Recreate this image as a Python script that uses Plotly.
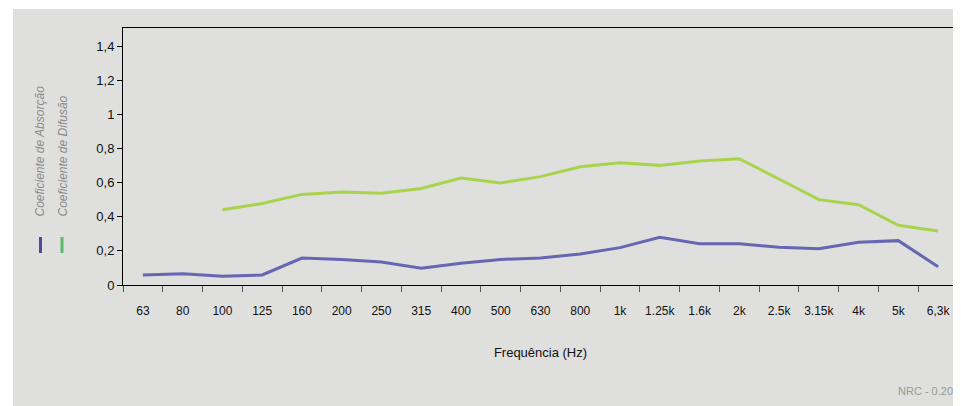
import plotly.graph_objects as go

categories = ["63", "80", "100", "125", "160", "200", "250", "315", "400", "500",
              "630", "800", "1k", "1.25k", "1.6k", "2k", "2.5k", "3.15k", "4k", "5k", "6,3k"]
absorcao = [0.059, 0.066, 0.051, 0.059, 0.158, 0.150, 0.135, 0.098, 0.127, 0.150,
            0.158, 0.182, 0.219, 0.279, 0.242, 0.242, 0.221, 0.213, 0.250, 0.260, 0.107]
difusao = [None, None, 0.441, 0.478, 0.531, 0.545, 0.537, 0.566, 0.627, 0.598,
           0.635, 0.693, 0.717, 0.701, 0.726, 0.740, 0.621, 0.500, 0.470, 0.350, 0.316]
y_ticks = [0, 0.2, 0.4, 0.6, 0.8, 1.0, 1.2, 1.4]
y_ticklabels = ["0", "0,2", "0,4", "0,6", "0,8", "1", "1,2", "1,4"]

OFF = 8  # page body margin
W, H = 961 - OFF, 406 - OFF
# plot area in page pixels: x 123..958, y 28..285
L, R, T, B = 123 - OFF, W - (958 - OFF), 28 - OFF, H - (285 - OFF)
PW, PH = W - L - R, H - T - B

def px(x):
    return (x - OFF - L) / PW

def py(y):
    return (H - B - (y - OFF)) / PH

BG = "#dfdfdd"
fig = go.Figure()
fig.add_trace(go.Scatter(x=categories, y=absorcao, mode="lines",
                         line=dict(color="#6666b3", width=3), showlegend=False))
fig.add_trace(go.Scatter(x=categories, y=difusao, mode="lines",
                         line=dict(color="#a8d44c", width=3), showlegend=False,
                         connectgaps=False))

fig.update_layout(
    width=W, height=H,
    margin=dict(l=L, r=R, t=T, b=B),
    paper_bgcolor=BG, plot_bgcolor=BG,
    font=dict(family="Liberation Sans, Arial, sans-serif", size=13, color="#111"),
    xaxis=dict(type="category", tickson="boundaries", ticks="outside", ticklen=6,
               tickcolor="#555", showline=True, linecolor="#000", linewidth=1,
               mirror=True, showgrid=False, zeroline=False, tickangle=0,
               ticklabelstandoff=15,
               tickfont=dict(family="Liberation Sans Narrow, Liberation Sans, Arial", size=12),
               title=dict(text="Frequência (Hz)", standoff=30,
                          font=dict(family="Liberation Sans Narrow, Liberation Sans, Arial", size=13)),
               range=[-0.5, len(categories) - 0.5]),
    yaxis=dict(range=[0, 1.506], tickvals=y_ticks, ticktext=y_ticklabels,
               ticks="outside", ticklen=5, tickcolor="#000", showline=True,
               linecolor="#000", linewidth=1, mirror=True, showgrid=False,
               zeroline=False, tickfont=dict(size=13)),
    shapes=[
        dict(type="rect", xref="paper", yref="paper", x0=px(0), x1=px(961), y0=py(9), y1=py(0),
             fillcolor="white", line=dict(width=0), layer="above"),
        dict(type="rect", xref="paper", yref="paper", x0=px(0), x1=px(13), y0=py(406), y1=py(0),
             fillcolor="white", line=dict(width=0), layer="above"),
        dict(type="line", xref="paper", yref="paper", x0=px(40.5), x1=px(40.5), y0=py(237), y1=py(253),
             line=dict(color="#5a4595", width=3)),
        dict(type="line", xref="paper", yref="paper", x0=px(62), x1=px(62), y0=py(237), y1=py(253),
             line=dict(color="#5cb86a", width=3)),
    ],
    annotations=[
        dict(text="<i>Coeficiente de Absorção</i>", xref="paper", yref="paper",
             x=px(39), y=py(219), xanchor="center", yanchor="bottom", textangle=-90,
             showarrow=False, font=dict(size=12, color="#8a8a8a")),
        dict(text="<i>Coeficiente de Difusão</i>", xref="paper", yref="paper",
             x=px(62), y=py(219), xanchor="center", yanchor="bottom", textangle=-90,
             showarrow=False, font=dict(size=12, color="#8a8a8a")),
        dict(text="NRC - 0.20", xref="paper", yref="paper", x=px(955), y=py(391),
             xanchor="right", yanchor="middle", showarrow=False,
             font=dict(size=11, color="#999999")),
    ],
)

fig.write_html("out.html")
